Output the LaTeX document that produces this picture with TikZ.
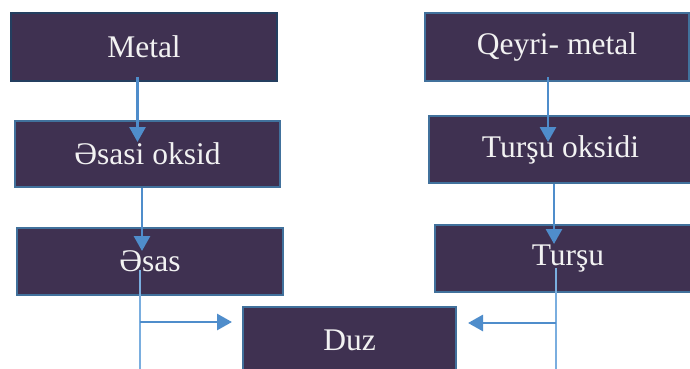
\documentclass[tikz,border=0pt]{standalone}
\usepackage{fontspec}
\setmainfont{Liberation Serif}
\usetikzlibrary{arrows.meta}
\definecolor{boxfill}{HTML}{3F3151}
\definecolor{boxline}{HTML}{41719C}
\definecolor{boxdark}{HTML}{243F60}
\definecolor{arrcol}{HTML}{4F8DCB}
\definecolor{thincol}{HTML}{7AAEDF}
\tikzset{
  chem/.style={draw=boxline, line width=2pt, fill=boxfill, text=white!95!black, inner sep=0pt,
    font=\fontsize{31.5}{38}\selectfont, minimum height=67pt},
  arr/.style={draw=arrcol, line width=2.8pt, -{Triangle[length=15pt,width=16pt]}},
  thin/.style={draw=thincol, line width=1.6pt}
}
\begin{document}
\begin{tikzpicture}[x=1pt,y=-1pt]
\useasboundingbox (0,0) rectangle (690,369);
\clip (0,0) rectangle (690,369);
\fill[white] (0,0) rectangle (690,369);
\node[chem, draw=boxdark, minimum width=266pt, minimum height=68pt] (metal) at (144,47) {Metal};
\node[chem, minimum width=265pt, minimum height=66pt] (osk) at (147.5,154) {Əsasi oksid};
\node[chem, minimum width=266pt] (esas) at (150,261.5) {Əsas};
\node[chem, minimum width=213pt] (duz) at (349.5,340.5) {Duz};
\node[chem, minimum width=264pt, minimum height=68pt] (qm) at (557,47) {Qeyri- metal};
\node[chem, minimum width=263pt] (tosk) at (560.5,149.5) {Turşu oksidi};
\node[chem, minimum width=266pt] (tur) at (568,258.5) {Turşu};
% vertical arrows
\draw[arr] ([xshift=-6.5pt,yshift=5pt]metal.south) -- ([xshift=-10pt,yshift=-22pt]osk.north);
\draw[arr] ([xshift=-5.5pt]osk.south) -- ([xshift=-8pt,yshift=-24pt]esas.north);
\draw[arr] ([xshift=-9pt,yshift=5pt]qm.south) -- ([xshift=-12.5pt,yshift=-27pt]tosk.north);
\draw[arr] ([xshift=-6.5pt]tosk.south) -- ([xshift=-14pt,yshift=-20pt]tur.north);
% left branch
\coordinate (lj) at (140,322);
\coordinate (lb) at (140,372);
\draw[thin] ([xshift=-10pt,yshift=-8.5pt]esas.center) -- (lb);
\draw[arr] (lj) -- ([xshift=-10pt,yshift=18.5pt]duz.west);
% right branch
\coordinate (rj) at (556,323);
\coordinate (rb) at (556,372);
\draw[thin] ([xshift=-12pt,yshift=-9.5pt]tur.center) -- (rb);
\draw[arr] (rj) -- ([xshift=11pt,yshift=17.5pt]duz.east);
\end{tikzpicture}
\end{document}
